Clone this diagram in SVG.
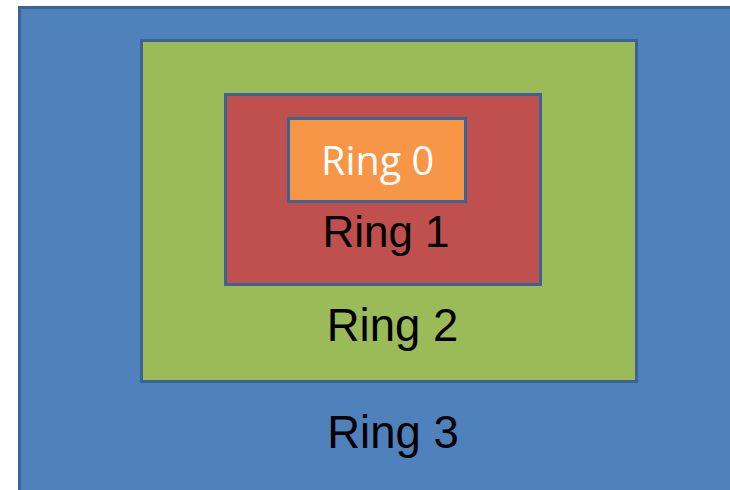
<svg xmlns="http://www.w3.org/2000/svg" width="730" height="490" viewBox="0 0 730 490">
<style>
.ring{stroke:#3b6494;stroke-width:3}
.lbl{font-family:"Liberation Sans",Arial,sans-serif;font-size:44px;fill:#000;text-anchor:middle}
.big{font-size:45.5px}
.lbl0{font-family:"Open Sans","Liberation Sans",sans-serif;font-size:40px;fill:#fff;text-anchor:middle}
</style>
<rect x="0" y="0" width="730" height="490" fill="#fff"/>
<g id="ring3">
<rect class="ring" x="19.5" y="7.5" width="720" height="490" fill="#4f81bd"/>
<text class="lbl big" x="393" y="448">Ring 3</text>
</g>
<g id="ring2">
<rect class="ring" x="141.5" y="40.5" width="495" height="341" fill="#9bbb59"/>
<text class="lbl big" x="392.5" y="341">Ring 2</text>
</g>
<g id="ring1">
<rect class="ring" x="225.5" y="94.5" width="315" height="190" fill="#c0504d"/>
<text class="lbl" x="386" y="247">Ring 1</text>
</g>
<g id="ring0">
<rect class="ring" x="288.5" y="118.5" width="177" height="83" fill="#f79646"/>
<text class="lbl0" x="377.5" y="175" textLength="113" lengthAdjust="spacingAndGlyphs">Ring 0</text>
</g>
<g id="connectors"></g>
</svg>
